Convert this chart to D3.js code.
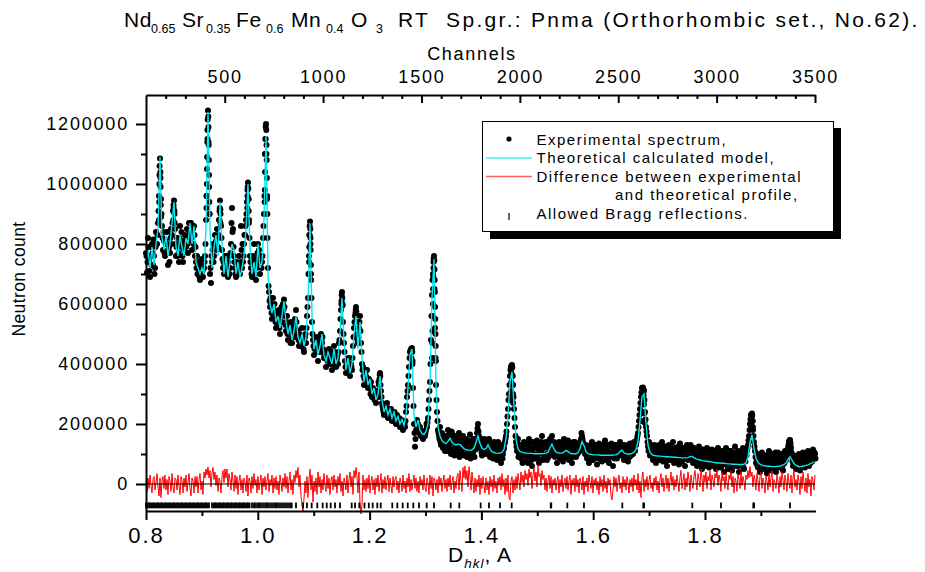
<!DOCTYPE html>
<html><head><meta charset="utf-8">
<script src="https://cdn.jsdelivr.net/npm/d3@7"></script>
<style>
html,body{margin:0;padding:0;background:#fff;}
svg{display:block;font-family:"Liberation Sans",Arial,Helvetica,sans-serif;}
</style></head><body>
<svg id="chart" width="925" height="572"></svg>
<script>
// ---------------- DATA ----------------
// measured profile sampled on a uniform d grid (Å); counts given in thousands
const dStart = 0.8;
const dStep = 0.0017889;
const calcStep = 0.0035778;
const countUnit = 1000;

// Experimental spectrum (kilo-counts): even channels, one value per dStep
const expK = [
770,705,820,745,690,790,800,730,760,720,
840,800,870,960,1085,950,860,780,810,760,
800,840,730,790,770,850,830,910,945,850,
760,820,800,740,860,790,810,740,780,830,
790,850,770,870,840,870,780,850,860,760,
740,760,700,720,680,730,750,690,720,760,
880,1050,1245,1030,700,670,740,800,760,830,
810,850,790,880,945,860,780,720,700,760,
730,700,690,760,720,800,920,850,760,720,
690,730,700,760,700,860,720,740,800,830,
880,940,1005,880,760,720,690,740,800,700,
680,750,800,780,700,760,740,820,900,1100,
1200,950,720,640,590,600,550,620,580,560,
520,570,540,580,500,560,540,600,615,560,
510,560,480,530,500,540,470,520,490,550,
580,500,510,460,490,460,520,470,440,490,
470,560,620,760,875,700,540,480,430,470,
460,490,410,470,440,500,470,450,420,440,
390,440,420,450,400,430,380,420,460,410,
390,420,400,470,510,580,640,540,470,410,
370,410,390,400,360,400,380,460,520,560,
590,500,470,520,560,470,400,390,330,370,
360,380,320,350,330,340,290,320,300,310,
270,300,290,330,370,310,270,250,230,260,
240,270,220,250,230,250,210,240,220,230,
200,230,210,220,190,215,200,180,210,190,
240,290,330,390,440,450,453,320,200,124,
180,213,200,170,190,160,175,150,170,160,
180,190,220,280,340,480,630,700,760,520,
330,240,180,160,190,130,170,120,150,110,
160,110,180,130,150,100,170,140,120,160,
110,150,130,170,100,140,115,160,95,130,
150,90,130,110,165,95,140,105,125,150,
130,170,200,160,120,150,95,140,110,130,
100,145,120,150,90,130,110,85,140,100,
125,80,140,95,115,70,130,100,120,140,
160,200,250,300,360,390,397,330,250,190,
140,110,150,100,130,85,120,95,140,75,
110,130,70,150,95,120,60,140,100,125,
85,145,100,70,130,110,160,80,120,95,
140,80,120,100,150,130,160,110,140,90,
125,70,110,140,85,130,100,75,150,120,
130,95,145,80,115,135,70,125,100,140,
90,120,105,130,110,150,160,140,120,100,
130,85,115,70,120,100,140,80,110,95,
125,65,110,135,85,100,75,120,90,145,
80,110,130,70,105,90,125,60,115,100,
130,85,120,95,140,115,130,100,80,120,
90,125,75,110,135,95,120,100,140,110,
130,150,170,210,250,290,320,322,310,240,
190,160,125,140,95,130,110,80,120,100,
70,115,95,130,85,105,140,75,110,90,
125,60,100,130,80,115,95,140,70,105,
120,85,110,65,135,95,75,120,100,60,
110,130,80,115,95,125,100,70,120,90,
110,60,100,125,75,95,50,115,85,105,
65,120,90,55,100,80,115,60,95,110,
50,90,120,70,100,55,110,80,40,95,
120,75,50,100,85,110,45,90,70,125,
60,95,110,40,85,105,65,120,50,90,
100,110,130,160,200,230,235,180,140,110,
70,100,55,90,40,80,105,60,85,50,
95,35,75,110,60,85,45,100,70,90,
40,80,105,55,90,70,100,45,85,110,
80,100,120,140,147,120,90,60,95,75,
50,90,70,100,45,85,60,105,75,55,
95,70,110,60,90,105,75,115,85,100
];

// Experimental spectrum (kilo-counts): odd channels, half a dStep later
const expK2 = [
760,740,790,710,760,730,770,815,700,790,
800,830,910,1030,1020,900,820,840,770,810,
770,800,780,740,820,800,870,930,900,800,
790,760,770,820,800,840,760,800,810,790,
820,800,830,810,870,820,830,800,830,790,
720,700,740,690,720,700,710,720,740,800,
960,1150,1140,900,720,760,780,740,800,800,
780,820,830,910,900,820,750,740,730,720,
760,720,740,700,770,870,840,790,740,700,
740,710,730,720,740,780,800,760,830,860,
900,980,950,820,740,700,760,720,750,730,
720,770,760,730,740,720,760,860,960,1150,
1100,820,660,610,620,570,590,560,600,540,
560,530,570,520,540,590,570,580,590,530,
540,500,520,510,470,510,490,500,530,520,
540,490,480,500,470,490,480,450,470,500,
520,590,700,830,800,620,500,460,450,480,
470,440,450,440,460,480,490,440,430,420,
420,410,440,410,420,410,400,440,440,400,
410,430,440,480,550,610,600,500,440,390,
390,400,420,380,380,390,420,490,540,570,
540,480,490,540,510,440,380,360,350,350,
380,340,340,330,300,310,310,300,280,290,
290,310,340,350,330,290,260,240,250,250,
260,240,240,230,240,220,230,230,240,215,
215,220,200,200,205,200,210,195,200,210,
260,310,360,420,445,445,400,260,170,150,
200,190,185,180,165,170,160,165,175,170,
200,205,250,310,400,560,680,740,650,420,
280,210,170,150,140,160,140,130,135,140,
130,150,120,165,140,175,110,150,95,135,
140,120,155,90,145,105,150,120,140,100,
120,140,100,145,85,120,105,150,90,115,
145,185,175,130,140,105,135,100,150,120,
130,115,140,100,130,90,120,135,95,120,
100,120,90,130,95,125,85,115,135,150,
175,225,280,330,380,395,360,290,220,160,
125,135,90,120,100,115,70,130,110,95,
135,90,120,100,140,80,115,95,135,85,
120,95,135,110,80,140,100,125,90,130,
100,125,90,135,110,145,125,95,120,105,
95,130,100,120,90,115,140,105,125,90,
110,135,100,125,95,110,90,140,115,95,
120,100,135,115,140,170,150,125,110,125,
100,125,90,110,85,135,95,120,90,130,
95,120,85,110,130,95,120,100,135,80,
120,95,85,125,90,135,95,110,85,130,
100,125,105,130,115,95,120,110,130,95,
115,95,130,90,120,110,135,125,115,130,
140,160,190,230,270,305,321,316,280,215,
175,140,110,125,115,95,125,100,130,85,
120,90,110,80,125,95,115,90,125,75,
95,115,80,105,125,90,110,85,120,95,
100,75,125,90,110,80,120,95,85,115,
90,105,120,95,130,110,85,120,95,105,
80,110,85,100,65,115,90,70,105,60,
100,75,105,85,65,110,70,95,80,60,
105,75,85,100,60,95,70,105,85,65,
90,100,70,110,60,80,100,65,105,85,
100,75,60,95,70,110,85,55,100,75,
95,120,145,180,215,232,210,160,125,90,
85,60,95,70,100,55,85,75,95,70,
60,85,95,50,80,100,65,75,55,105,
75,95,60,85,70,95,60,100,70,90,
95,115,130,145,135,105,75,85,70,90,
80,65,95,70,85,100,80,70,95,80,
80,100,75,95,70,85,100,90,105,85
];

// Extra experimental points on the flanks of the strong reflections
const expPeakD = [
0.82432,0.82576,0.82397,0.82611,0.82361,0.82647,0.82325,0.82683,
0.84937,0.85081,0.84884,0.85134,
0.91037,0.91145,0.91002,0.91180,0.90966,0.91216,0.90930,0.91252,0.90894,0.91288,0.90858,0.91324,0.90823,0.91359,
0.93184,0.93292,0.93149,0.93327,
0.98193,0.98301,0.98158,0.98336,0.98122,0.98372,0.98086,0.98408,
1.01413,1.01521,1.01378,1.01556,1.01342,1.01592,1.01306,1.01628,1.01270,1.01664,1.01234,1.01700,
1.09284,1.09392,1.09249,1.09427,1.09213,1.09463,1.09177,1.09499,1.09141,1.09535,
1.15008,1.15116,1.14955,1.15169,
1.17513,1.17621,
1.21806,1.21914,
1.27531,1.27639,1.27478,1.27692,
1.31466,1.31574,1.31431,1.31609,1.31395,1.31645,1.31359,1.31681,1.31323,1.31717,1.31287,1.31753,1.31252,1.31788,1.31216,1.31824,1.31180,1.31860,
1.45420,1.45528,1.45367,1.45581,1.45331,1.45617,1.45295,1.45653,1.45259,1.45689,
1.68855,1.68963,1.68802,1.69016,1.68748,1.69070,1.68694,1.69124,1.68641,1.69177,
1.88353,1.88461,1.88300,1.88514,1.88246,1.88568,
1.95151,1.95259,1.95098,1.95312
];
const expPeakK = [
1060,1040,1000,990,940,930,880,890,
920,910,880,870,
1215,1225,1180,1190,1140,1130,1090,1080,1000,990,960,940,920,900,
920,915,880,870,
990,985,960,950,920,910,880,870,
1190,1180,1150,1130,1100,1080,1040,1020,980,960,940,900,
860,850,830,820,790,780,740,730,700,680,
630,620,600,595,
580,575,
365,360,
448,440,420,410,
750,745,720,715,690,680,650,640,600,590,560,550,510,500,470,460,420,410,
392,388,370,360,340,330,310,300,280,270,
318,315,300,295,270,265,240,235,210,205,
230,228,215,210,195,190,
145,140,130,125
];

// Theoretical calculated model (kilo-counts), one value per calcStep
const calcK = [
740,780,720,790,730,800,850,1090,820,780,
830,760,800,870,940,790,760,830,790,760,
820,800,870,800,860,740,720,700,720,700,
860,1240,850,720,790,830,760,940,800,700,
760,690,740,800,780,700,740,690,720,760,
850,1000,790,700,740,690,800,720,740,880,
1160,700,600,570,600,540,560,520,560,610,
540,500,530,480,510,560,490,470,500,460,
490,600,870,560,450,480,430,460,500,430,
410,440,420,400,450,400,420,500,620,480,
380,420,370,400,500,560,450,540,420,340,
380,330,350,300,320,280,300,360,280,240,
260,230,250,220,240,210,225,200,215,195,
230,320,430,450,230,190,213,180,168,165,
175,200,330,620,750,330,190,160,145,138,
135,142,153,140,133,130,133,132,124,118,
114,113,112,114,120,138,160,135,120,115,
118,130,117,108,105,103,102,103,106,115,
150,230,340,374,260,150,118,108,106,104,
103,102,102,102,101,101,101,101,101,102,
103,106,120,133,116,107,104,103,103,106,
112,108,103,101,101,101,104,118,141,128,
108,101,99,98,97,97,97,96,96,96,
96,96,96,96,97,97,100,108,113,104,
101,100,100,102,106,115,140,210,290,300,
200,130,106,98,95,94,93,93,92,92,
91,91,90,90,89,89,88,88,87,87,
87,88,91,92,88,84,82,80,78,77,
76,75,74,73,72,71,70,70,69,69,
68,67,67,66,66,66,65,65,65,66,
70,90,140,163,120,85,72,66,63,61,
60,59,59,58,58,58,59,60,62,65,
70,82,91,80,68,62,59,58,59,60,
62,64,67,70,74
];

// Difference between experimental and theoretical profile (kilo-counts), one value per dStep
const diffK = [
10,-25,20,-15,30,-5,-30,15,25,-20,
5,35,-10,-40,20,-45,10,25,-15,30,
-20,15,-35,25,10,-25,35,-10,-30,20,
15,-20,30,-5,-35,25,10,-30,20,-10,
30,-25,5,35,-15,-40,20,10,-30,25,
-10,25,-30,15,35,-20,10,-35,40,20,
50,30,57,20,45,-10,35,55,15,40,
-5,30,-25,20,10,-30,25,45,5,50,
20,50,-10,35,15,-20,40,10,-25,30,
-15,25,-35,10,30,-20,15,-30,20,5,
-25,30,-40,20,10,-30,25,-15,35,-5,
15,-30,25,-20,5,30,-35,20,-10,25,
-20,10,35,-25,15,-5,30,-30,20,-15,
25,-20,10,-35,30,5,-25,20,-10,35,
-15,25,-30,10,40,-20,15,-35,30,5,
45,20,55,-10,30,-40,-70,-90,-50,10,
-30,25,-45,15,50,-20,30,-60,10,-25,
20,-35,40,-10,25,-30,15,-20,35,-5,
-25,30,-15,20,-35,10,25,-20,30,-10,
15,-30,25,-5,35,-25,10,-40,20,5,
-20,30,-30,15,40,-10,25,-35,45,20,
55,25,-30,40,-60,-100,-70,30,-20,15,
-25,20,-15,30,-30,10,25,-20,15,-35,
20,-10,30,-25,5,35,-30,15,-15,25,
-20,10,30,-25,20,-5,-30,25,-10,15,
25,-20,10,-30,20,5,-25,30,-15,10,
-30,20,-10,35,-25,15,-20,5,30,-15,
20,-25,10,-30,25,-5,15,-20,30,-10,
-25,20,5,-35,30,-15,25,-40,20,10,
-20,15,-30,25,-5,20,-25,10,30,-15,
15,-25,20,-10,30,-20,5,25,-30,10,
-15,25,35,-20,45,10,-25,55,20,60,
15,45,-10,58,25,-20,40,5,-30,20,
-25,15,-10,30,-35,20,-15,25,-5,-30,
20,-20,10,-35,25,-10,15,-25,30,-15,
10,-30,20,-5,25,-20,35,-10,15,-35,
20,-25,30,-45,-53,10,25,-30,15,-20,
25,-15,35,10,-20,40,5,30,-10,45,
15,35,-5,50,20,40,-15,30,55,10,
40,-10,63,25,35,-5,45,15,30,-20,
20,-25,10,30,-15,25,-30,15,-5,20,
-20,10,25,-30,15,-10,30,-25,5,20,
-15,25,-20,10,30,-35,15,-5,20,-25,
30,-10,15,-30,20,5,-20,25,-35,10,
-10,20,-25,30,5,-15,25,-30,15,-5,
20,-20,10,-35,25,-10,15,-25,30,-15,
10,-30,20,-5,15,-40,-53,-20,25,-10,
20,-25,10,30,-15,5,-30,25,-10,15,
-20,25,5,-30,15,-10,20,-25,30,-5,
15,-20,35,-30,10,-45,20,40,-25,15,
-10,25,-20,10,30,-15,5,-25,20,-5,
25,-20,10,-30,15,35,-10,20,-25,5,
30,-15,20,-25,10,40,-5,25,-20,15,
-10,30,5,-25,20,45,-15,10,35,-20,
20,-10,40,15,-25,30,5,-15,25,45,
10,-20,35,15,-10,50,20,-25,30,5,
40,-15,25,10,45,-20,30,15,-10,35,
20,50,-5,30,15,-25,40,10,25,-15,
35,5,-20,30,15,45,-10,25,-30,20,
10,-25,35,15,-15,40,-5,25,10,-20,
30,15,45,20,58,25,40,-10,30,15,
-20,35,10,-25,25,40,-15,20,5,-30,
25,10,-20,35,-10,20,45,-25,15,5,
-15,30,10,-30,25,-10,40,15,-20,30,
10,-25,35,5,-15,30,-30,20,45,-10,
15,-20,30,10,-35,25,-15,40,5,-25,
20,-30,35,-10,15,-40,25,10,-20,30
];

// Allowed Bragg reflections (d, Å)
const braggD = [
0.8000,0.8027,0.8054,0.8072,0.8098,0.8125,0.8143,0.8170,0.8197,0.8215,0.8242,0.8268,0.8286,0.8313,0.8340,0.8358,
0.8385,0.8411,0.8429,0.8456,0.8483,0.8501,0.8528,0.8555,0.8572,0.8599,0.8626,0.8644,0.8671,0.8698,0.8716,0.8742,
0.8769,0.8787,0.8814,0.8841,0.8859,0.8886,0.8912,0.8930,0.8957,0.8984,0.9002,0.9029,0.9055,0.9073,0.9100,0.9127,
0.9181,0.9208,0.9234,0.9252,0.9279,0.9306,0.9324,0.9351,0.9377,0.9395,0.9422,0.9449,0.9467,0.9494,0.9521,0.9538,
0.9565,0.9592,0.9610,0.9637,0.9664,0.9682,0.9708,0.9735,0.9753,0.9780,0.9807,0.9825,0.9852,
0.9896,0.9932,0.9950,0.9986,1.0021,1.0039,1.0075,1.0111,1.0147,1.0165,1.0200,1.0236,1.0272,1.0308,1.0326,1.0361,
1.0397,1.0433,1.0469,1.0504,1.0540,1.0576,1.0606,
1.0683,1.0809,1.0880,1.0964,1.1064,1.1161,1.1233,1.1304,1.1381,1.1470,1.1680,1.1739,1.1816,1.1909,1.1986,1.2055,
1.2138,1.2199,1.2406,1.2496,1.2592,1.2682,1.2782,1.2884,1.3021,1.3152,1.3451,1.3605,1.3987,1.4136,1.4333,1.4542,
1.5240,1.5250,1.5537,1.5835,1.6521,1.6896,1.6910,1.7773,1.8286,1.8864,1.8878,1.9521
];

// Axes ticks
const yTicks = [0, 200000, 400000, 600000, 800000, 1000000, 1200000];
const yMinor = [100000, 300000, 500000, 700000, 900000, 1100000];
const dTicks = [0.8, 1.0, 1.2, 1.4, 1.6, 1.8];
const dMinor = [0.9, 1.1, 1.3, 1.5, 1.7, 1.9];
const chTicks = [500, 1000, 1500, 2000, 2500, 3000, 3500];
const chMinor = [200,300,400,600,700,800,900,1100,1200,1300,1400,1600,1700,1800,1900,2100,2200,2300,2400,2600,2700,2800,2900,3100,3200,3300,3400];

const legendLabels = ["Experimental spectrum,", "Theoretical calculated model,", "Difference between experimental", "and theoretical profile,", "Allowed Bragg reflections."];

// ---------------- DRAWING ----------------
const svg = d3.select('#chart');
const FONT = '"Liberation Sans",Arial,Helvetica,sans-serif';
const x = d3.scaleLinear().domain([0.8, 1.9986]).range([146, 816]);
const xc = d3.scaleLinear().domain([100, 3500]).range([146, 815]);
const y = d3.scaleLinear().domain([-90000, 1296667]).range([511, 95]);

const expPts = expK.map((v, i) => [dStart + i * dStep, v * countUnit])
  .concat(expK2.map((v, i) => [dStart + (i + 0.5) * dStep, v * countUnit]))
  .concat(expPeakD.map((d, i) => [d, expPeakK[i] * countUnit]));
const calcPts = calcK.map((v, i) => [dStart + i * calcStep, v * countUnit]);
const diffPts = diffK.map((v, i) => [dStart + i * dStep, v * countUnit]);

// experimental dots
svg.append('g').selectAll('circle').data(expPts).join('circle')
  .attr('cx', p => x(p[0])).attr('cy', p => y(p[1])).attr('r', 3.0).attr('fill', '#000');

// calculated model
const line = d3.line().x(p => x(p[0])).y(p => y(p[1]));
svg.append('path').datum(calcPts).attr('d', line)
  .attr('fill', 'none').attr('stroke', '#00e8f0').attr('stroke-width', 1.4);

// difference
svg.append('path').datum(diffPts).attr('d', line)
  .attr('fill', 'none').attr('stroke', '#ff0000').attr('stroke-width', 1);

// zero line
svg.append('line').attr('x1', 146).attr('x2', 815).attr('y1', y(0)).attr('y2', y(0))
  .attr('stroke', '#000').attr('stroke-width', 1);

// Bragg ticks
svg.append('g').selectAll('line').data(braggD).join('line')
  .attr('x1', d => x(d)).attr('x2', d => x(d))
  .attr('y1', y(-62000)).attr('y2', y(-81000))
  .attr('stroke', '#000').attr('stroke-width', 1.8);

function styleAxis(g, fs, ls) {
  g.selectAll('path,line').attr('stroke', '#000').attr('stroke-width', 2);
  g.selectAll('text').attr('font-size', fs).attr('font-family', FONT)
    .attr('fill', '#000').style('letter-spacing', ls + 'px');
}

// left axis
const gl = svg.append('g').attr('transform', 'translate(146,0)')
  .call(d3.axisLeft(y).tickValues(yTicks).tickFormat(d3.format('d')).tickSize(10).tickPadding(7).tickSizeOuter(0));
styleAxis(gl, 18, 1.8);
const glm = svg.append('g').attr('transform', 'translate(146,0)')
  .call(d3.axisLeft(y).tickValues(yMinor).tickFormat('').tickSize(5).tickSizeOuter(0));
glm.select('.domain').remove();
styleAxis(glm, 18, 0);

// bottom axis
const gb = svg.append('g').attr('transform', 'translate(0,511)')
  .call(d3.axisBottom(x).tickValues(dTicks).tickFormat(d3.format('.1f')).tickSize(9).tickPadding(7).tickSizeOuter(0));
gb.select('.domain').attr('d', 'M146,0.5H816');
styleAxis(gb, 22, 2);
const gbm = svg.append('g').attr('transform', 'translate(0,511)')
  .call(d3.axisBottom(x).tickValues(dMinor).tickFormat('').tickSize(5).tickSizeOuter(0));
gbm.select('.domain').remove();
styleAxis(gbm, 22, 0);

// top axis (channels)
const gt = svg.append('g').attr('transform', 'translate(0,95)')
  .call(d3.axisTop(xc).tickValues(chTicks).tickFormat(d3.format('d')).tickSize(-8).tickPadding(12).tickSizeOuter(0));
styleAxis(gt, 18, 1.8);
const gtm = svg.append('g').attr('transform', 'translate(0,95)')
  .call(d3.axisTop(xc).tickValues(chMinor).tickFormat('').tickSize(-4).tickSizeOuter(0));
gtm.select('.domain').remove();
styleAxis(gtm, 18, 0);

// axis titles
svg.append('text').attr('x', 472).attr('y', 60).attr('text-anchor', 'middle')
  .attr('font-size', 18).style('letter-spacing', '1.7px').text('Channels');
svg.append('text').attr('transform', 'translate(25,279) rotate(-90)').attr('text-anchor', 'middle')
  .attr('font-size', 17.5).style('letter-spacing', '0.4px').text('Neutron count');
const xt = svg.append('text').attr('x', 448).attr('y', 562).attr('font-size', 21).style('letter-spacing', '1px');
xt.append('tspan').text('D');
xt.append('tspan').attr('font-size', 13.5).attr('font-style', 'italic').attr('dy', 6).text('hkl');
xt.append('tspan').attr('dy', -6).text(', A');

// title: [text, x position, is subscript]
const titleParts = [
  ['Nd', 124, 0], ['0.65', 151, 1], ['Sr', 182, 0], ['0.35', 206, 1], ['Fe', 236, 0], ['0.6', 266, 1],
  ['Mn', 291, 0], ['0.4', 326, 1], ['O', 351, 0], ['3', 376, 1],
  ['RT  Sp.gr.: Pnma (Orthorhombic set., No.62).', 398, 0]
];
const tg = svg.append('g');
titleParts.forEach(([t, px, s], i) => {
  const last = i === titleParts.length - 1;
  tg.append('text').attr('x', px).attr('y', s ? 33 : 27)
    .attr('font-size', s ? 12.5 : 21).style('letter-spacing', s ? '0px' : (last ? '2.3px' : '0.6px'))
    .style('white-space', 'pre').text(t);
});

// legend
const lg = svg.append('g');
lg.append('rect').attr('x', 490).attr('y', 128).attr('width', 351).attr('height', 111).attr('fill', '#000');
lg.append('rect').attr('x', 482.5).attr('y', 121.5).attr('width', 351).attr('height', 110)
  .attr('fill', '#fff').attr('stroke', '#000').attr('stroke-width', 1);
lg.append('circle').attr('cx', 509).attr('cy', 139).attr('r', 2.6).attr('fill', '#000');
lg.append('line').attr('x1', 486).attr('x2', 532).attr('y1', 158).attr('y2', 158).attr('stroke', '#40f0f0').attr('stroke-width', 1.5);
lg.append('line').attr('x1', 486).attr('x2', 532).attr('y1', 176.5).attr('y2', 176.5).attr('stroke', '#ff6060').attr('stroke-width', 1.5);
lg.append('line').attr('x1', 509).attr('x2', 509).attr('y1', 213).attr('y2', 220).attr('stroke', '#000').attr('stroke-width', 1.2);
const lgPos = [[536.5, 145], [536.5, 163.3], [536.5, 181.7], [615, 200], [536.5, 219]];
legendLabels.forEach((t, i) => {
  lg.append('text').attr('x', lgPos[i][0]).attr('y', lgPos[i][1]).attr('font-size', 15)
    .style('letter-spacing', '1.5px').text(t);
});
</script>
</body></html>
